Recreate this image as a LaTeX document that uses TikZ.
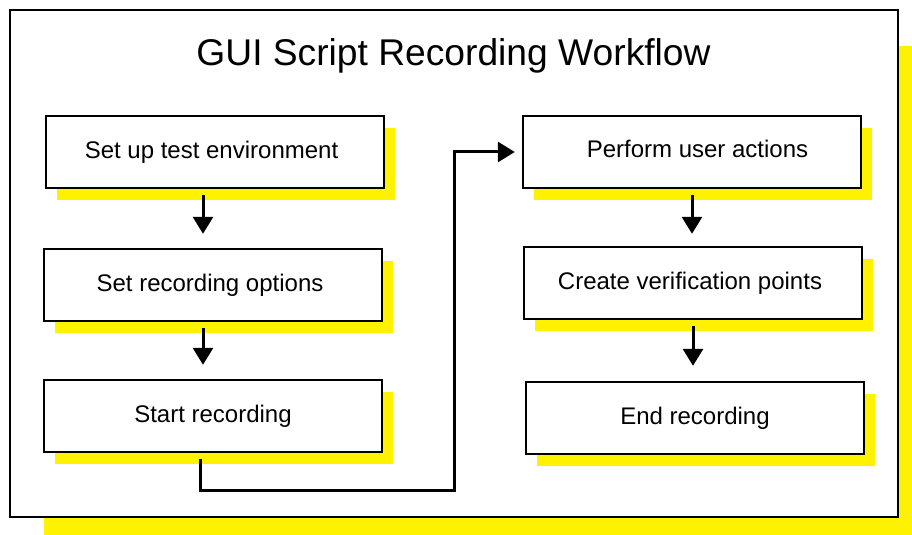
\documentclass[tikz,border=0pt]{standalone}
\usepackage{fontspec}
\setmainfont{Liberation Sans}
\usetikzlibrary{arrows.meta,shadows}
\tikzset{
  stepbox/.style={draw, line width=1.2pt, fill=white, inner sep=0pt,
    minimum width=169pt, minimum height=36pt,
    font=\fontsize{12}{14}\selectfont,
    drop shadow={shadow xshift=5.5pt, shadow yshift=-6pt, fill=yellow, opacity=1}},
  flow/.style={line width=1.5pt, -{Triangle[width=10pt,length=8.5pt]}},
}

\begin{document}
\begin{tikzpicture}[x=0.5pt, y=-0.5pt]
    \clip (0,0) rectangle (912,535);

    % outer frame and title
    \node [draw, line width=1.3pt, fill=white, minimum width=444pt, minimum height=253.5pt,
      drop shadow={shadow xshift=17pt, shadow yshift=-18pt, fill=yellow, opacity=1}] (frame) at (454,263.5) {};
    \node [anchor=base, font=\fontsize{18.6}{22}\selectfont] (title) at (453.5,66) {GUI Script Recording Workflow};

    % left column
    \node [stepbox] (setup) at (215,152) {Set up test environment\hspace*{3.5pt}};
    \node [stepbox] (options) at (213,285) {Set recording options\hspace*{3pt}};
    \node [stepbox] (start) at (213,416) {Start recording};

    \draw [flow] ([xshift=-6pt,yshift=-3pt]setup.south) -- ([xshift=-5pt,yshift=7pt]options.north);
    \draw [flow] ([xshift=-5pt,yshift=-3pt]options.south) -- ([xshift=-5pt,yshift=7pt]start.north);

    % right column
    \node [stepbox] (actions) at (692,152) {\hspace*{5.5pt}\raisebox{3pt}{Perform user actions}};
    \node [stepbox] (verify) at (693,283) {Create verification points\hspace*{3pt}};
    \node [stepbox] (finish) at (695,418) {End recording};

    \draw [flow] ([yshift=-3pt]actions.south) -- ([xshift=-0.5pt,yshift=6pt]verify.north);
    \draw [flow] ([yshift=-3pt]verify.south) -- ([xshift=-1pt,yshift=7.5pt]finish.north);

    % from start recording over to perform user actions
    \coordinate (bend) at (454,490);
    \draw [flow] ([xshift=-6.5pt,yshift=-3pt]start.south) |- (bend) |- ([xshift=-3.5pt]actions.west);
\end{tikzpicture}
\end{document}
